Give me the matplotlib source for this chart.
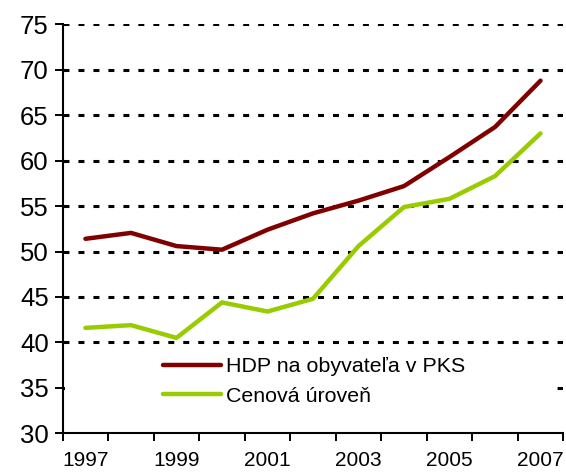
import matplotlib
matplotlib.use("Agg")
import matplotlib.pyplot as plt
from matplotlib.patches import Rectangle

years = ["1997", "1998", "1999", "2000", "2001", "2002", "2003", "2004", "2005", "2006", "2007"]
hdp = [51.4, 52.05, 50.6, 50.2, 52.4, 54.2, 55.6, 57.2, 60.4, 63.7, 68.8]
cen = [41.6, 41.9, 40.5, 44.4, 43.4, 44.8, 50.6, 54.9, 55.8, 58.3, 63.0]
series_names = ["HDP na obyvateľa v PKS", "Cenová úroveň"]
yticks = [30, 35, 40, 45, 50, 55, 60, 65, 70, 75]

plt.rcParams['font.family'] = ['Liberation Sans', 'DejaVu Sans']

fig = plt.figure(figsize=(5.66, 4.72), dpi=100)
ax = fig.add_axes([62.7/566, 1-433.3/472, (563.3-62.7)/566, (433.3-24.3)/472])

x = list(range(len(years)))
for yv in yticks[1:]:
    ax.axhline(yv, color='black', lw=2.2, linestyle=(0, (1.95, 2.95)), zorder=1)

# white legend background covering the gridline behind it
ax.add_patch(Rectangle((0.004, 0.02), 0.98, 0.16, transform=ax.transAxes,
                       facecolor='white', edgecolor='none', zorder=2))

ax.plot(x, hdp, color='#800000', lw=3.2, label=series_names[0], zorder=3, solid_capstyle='round')
ax.plot(x, cen, color='#99CC00', lw=3.2, label=series_names[1], zorder=3, solid_capstyle='round')

ax.set_xlim(-0.5, len(years) - 0.5)
ax.set_ylim(30, 75)
ax.set_yticks(yticks)
ax.set_yticklabels([str(v) for v in yticks], fontsize=18.5)
ax.set_xticks([i - 0.5 for i in range(len(years) + 1)])
ax.set_xticklabels([])
ax.set_xticks(x[::2], minor=True)
ax.set_xticklabels(years[::2], minor=True, fontsize=15)
ax.tick_params(axis='x', which='minor', length=0, pad=13)
ax.tick_params(axis='x', which='major', length=6, width=1.4, direction='out')
ax.tick_params(axis='y', length=6, width=1.4, direction='out', pad=4)
for s in ['top', 'right']:
    ax.spines[s].set_visible(False)
for s in ['left', 'bottom']:
    ax.spines[s].set_linewidth(1.5)

leg = ax.legend(loc='center left', bbox_to_anchor=(163/566, 1-381.5/472),
                bbox_transform=fig.transFigure, frameon=False, fontsize=15.4,
                handlelength=2.7, handletextpad=0.25, labelspacing=0.5,
                borderpad=0, borderaxespad=0)
leg.set_zorder(4)

fig.savefig("out.png", dpi=100)
